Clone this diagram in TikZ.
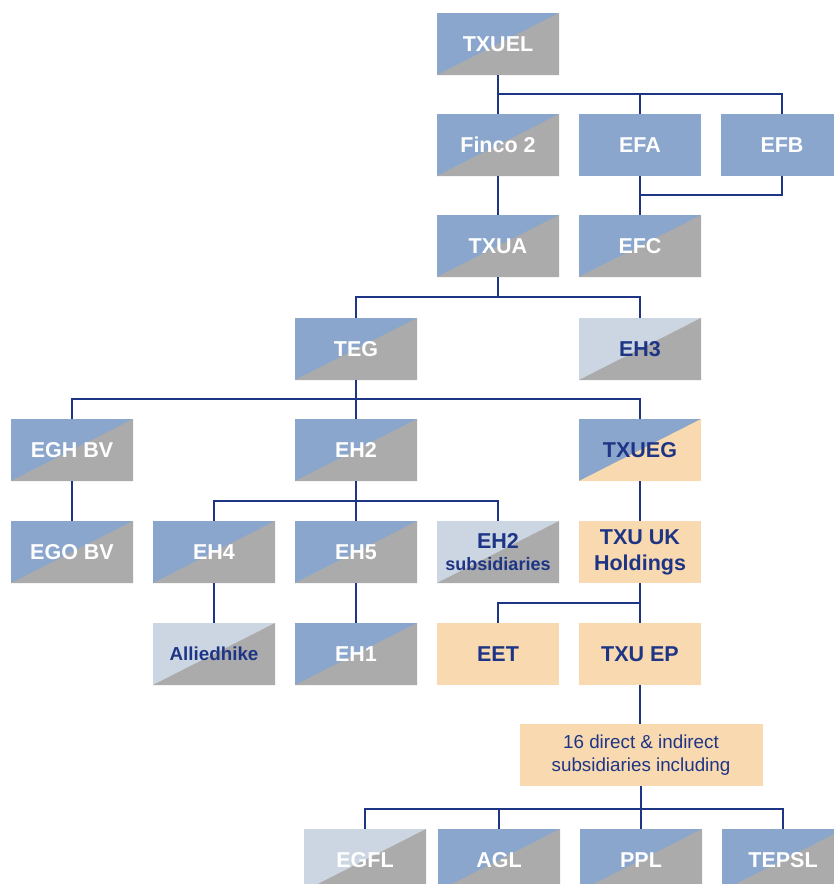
\documentclass[tikz,border=0pt]{standalone}
\usepackage{fontspec}
\setmainfont{Liberation Sans}
\usetikzlibrary{calc}

\definecolor{cblue}{HTML}{8AA6CC}
\definecolor{cgrey}{HTML}{ABABAB}
\definecolor{clight}{HTML}{CCD6E2}
\definecolor{cpeach}{HTML}{F8D9B0}
\definecolor{cnavy}{HTML}{1E3585}

\begin{document}
\begin{tikzpicture}[
  x=1pt,y=-1pt,
  box/.style={rectangle,minimum width=122pt,minimum height=62pt,inner sep=2pt,
              align=center,text=white,font=\bfseries\fontsize{21.5}{26}\selectfont},
  split/.style 2 args={box,fill=#1,path picture={
      \fill[#2] (path picture bounding box.south west) -- (path picture bounding box.north east)
                -- (path picture bounding box.south east) -- cycle;}},
  bg/.style={split={cblue}{cgrey}},
  lg/.style={split={clight}{cgrey},text=cnavy},
  bp/.style={split={cblue}{cpeach},text=cnavy},
  plain/.style={box,fill=#1},
  pe/.style={plain=cpeach,text=cnavy},
  link/.style={draw=cnavy,line width=1.1pt},
]
\useasboundingbox (0,0) rectangle (834,884);
\clip (0,0) rectangle (834,884);

% ===== top: TXUEL, Finco 2, EFA/EFB =====
\node[bg] (txuel) at (498,44) {TXUEL};
\node[bg] (finco) at (498,145) {Finco 2};
\node[plain=cblue] (efa) at (640,145) {EFA};
\node[plain=cblue] (efb) at (782,145) {EFB};
\node[bg] (txua) at (498,246) {TXUA};
\node[bg] (efc) at (640,246) {EFC};

% ===== TEG level =====
\node[bg] (teg) at (356,349) {TEG};
\node[lg] (eh3) at (640,349) {EH3};
\node[bg] (eghbv) at (72,450) {EGH BV};
\node[bg] (eh2) at (356,450) {EH2};
\node[bp] (txueg) at (640,450) {TXUEG};

% ===== EH2 / UK level =====
\node[bg] (egobv) at (72,552) {EGO BV};
\node[bg] (eh4) at (214,552) {EH4};
\node[bg] (eh5) at (356,552) {EH5};
\node[lg] (eh2sub) at (498,552) {EH2\\[-4pt]{\fontsize{18}{20}\selectfont subsidiaries}};
\node[pe] (txuuk) at (640,552) {TXU UK\\Holdings};
\node[lg,font=\bfseries\fontsize{18.8}{21}\selectfont] (allied) at (214,654) {Alliedhike};
\node[bg] (eh1) at (356,654) {EH1};
\node[pe] (eet) at (498,654) {EET};
\node[pe] (txuep) at (640,654) {TXU EP};

% ===== TXU EP subsidiaries =====
\node[pe,minimum width=243pt,font=\fontsize{18.8}{23}\selectfont] (direct) at (641,755)
  {16 direct \& indirect\\subsidiaries including};
\node[lg,text=white] (egfl) at (365,860) {EGFL};
\node[bg] (agl) at (499,860) {AGL};
\node[bg] (ppl) at (641,860) {PPL};
\node[bg] (tepsl) at (783,860) {TEPSL};

% bus points
\coordinate (b1) at (498,94);
\coordinate (b2) at (640,195);
\coordinate (b3) at (498,297);
\coordinate (b4) at (356,399);
\coordinate (b5) at (356,501);
\coordinate (b6) at (640,603);
\coordinate (b7) at (641,809);

% connectors
\draw[link] (txuel) -- (finco); \draw[link] (b1) -| (efa.north); \draw[link] (b1) -| (efb.north);
\draw[link] (efa) -- (efc); \draw[link] (efb.south) |- (b2);
\draw[link] (finco) -- (txua);
\draw[link] (txua.south) -- (b3); \draw[link] (b3) -| (teg.north); \draw[link] (b3) -| (eh3.north);
\draw[link] (teg) -- (eh2); \draw[link] (b4) -| (eghbv.north); \draw[link] (b4) -| (txueg.north);
\draw[link] (eghbv) -- (egobv);
\draw[link] (eh2) -- (eh5); \draw[link] (b5) -| (eh4.north); \draw[link] (b5) -| (eh2sub.north);
\draw[link] (txueg) -- (txuuk);
\draw[link] (eh4) -- (allied); \draw[link] (eh5) -- (eh1);
\draw[link] (txuuk) -- (txuep); \draw[link] (b6) -| (eet.north);
\draw[link] (txuep.south) -- (txuep.south |- direct.north);
\draw[link] (direct) -- (ppl); \draw[link] (b7) -| (egfl.north); \draw[link] (b7) -| (agl.north);
\draw[link] (b7) -| (tepsl.north);
\end{tikzpicture}
\end{document}
